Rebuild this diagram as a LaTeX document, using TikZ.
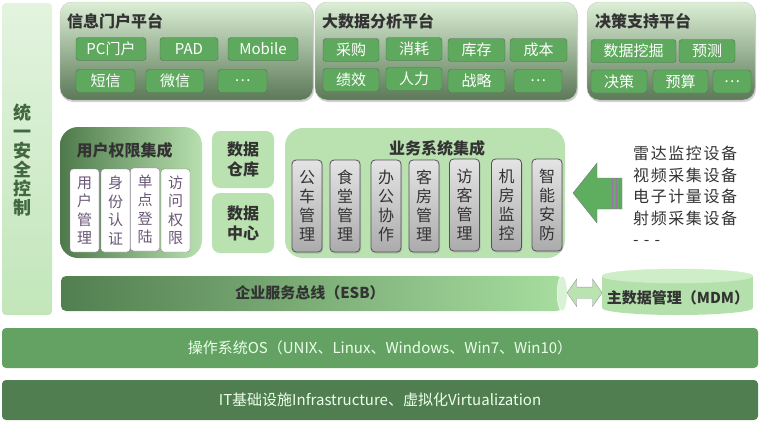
\documentclass[tikz,border=0pt]{standalone}
\usepackage{fontspec}
\setmainfont{Noto Sans CJK SC}
\newfontfamily\devfont{Noto Sans CJK SC}[LetterSpace=10]
\usetikzlibrary{positioning,calc,shapes.geometric,shapes.arrows,shadows}
\definecolor{panelTop}{HTML}{DCEFD6}
\definecolor{panelMid}{HTML}{A6C69F}
\definecolor{panelBot}{HTML}{5B7857}
\definecolor{btnGreen}{HTML}{5FA95F}
\definecolor{btnLine}{HTML}{4F6F4F}
\definecolor{titleGray}{HTML}{333333}
\definecolor{barTop}{HTML}{E3F3DF}
\definecolor{barBot}{HTML}{C2E6BA}
\definecolor{userDark}{HTML}{4E7A4B}
\definecolor{userLight}{HTML}{B8E0AF}
\definecolor{authLine}{HTML}{9C72A8}
\definecolor{authText}{HTML}{6A5876}
\definecolor{dataFill}{HTML}{B9E2B0}
\definecolor{grayTop}{HTML}{E4E4E4}
\definecolor{grayBot}{HTML}{ABABAB}
\definecolor{grayLine}{HTML}{5A4D5C}
\definecolor{arrowFill}{HTML}{5FAE60}
\definecolor{esbDark}{HTML}{527F50}
\definecolor{esbLight}{HTML}{A7DD9F}
\definecolor{capFill}{HTML}{D9F1D4}
\definecolor{mdmBody}{HTML}{B4E1AB}
\definecolor{mdmEnd}{HTML}{CDEEC6}
\definecolor{osFill}{HTML}{63A263}
\definecolor{itFill}{HTML}{517E51}
\tikzset{
  platform/.style={draw=gray!45,rounded corners=12pt,minimum height=98pt,
    top color=panelTop,middle color=panelMid,bottom color=panelBot,
    drop shadow={opacity=0.35,shadow xshift=1pt,shadow yshift=-2pt}},
  ptitle/.style={anchor=west,inner sep=0pt,text=titleGray,
    font=\fontsize{16}{19}\selectfont\bfseries},
  btn/.style={draw=btnLine,fill=btnGreen,rounded corners=3pt,text=white,
    inner sep=0pt,minimum height=23pt,font=\fontsize{15}{18}\selectfont},
  vtext/.style={align=center,inner sep=0pt,font=\fontsize{15}{18.5}\selectfont},
  authbox/.style={draw=authLine,fill=white,rounded corners=3pt,minimum width=29pt,
    minimum height=83pt,text=authText,vtext},
  modbox/.style={draw=grayLine,thick,rounded corners=4pt,top color=grayTop,
    bottom color=grayBot,minimum width=30pt,minimum height=92pt,text=titleGray,
    vtext,font=\fontsize{16}{19}\selectfont,
    drop shadow={opacity=0.3,shadow xshift=1pt,shadow yshift=-1.5pt}},
  databox/.style={fill=dataFill,rounded corners=8pt,minimum width=62pt,
    text=titleGray,align=center,font=\fontsize{16}{20}\selectfont\bfseries},
  layer/.style={rounded corners=4pt,minimum width=756pt,minimum height=40pt,
    text=white!92!green,font=\fontsize{15}{18}\selectfont}
}
\begin{document}
\begin{tikzpicture}[x=1pt,y=-1pt]
  \useasboundingbox (0,0) rectangle (759,421);
  % security bar on the left
  \node[rounded corners=4pt,top color=barTop,bottom color=barBot,
    minimum width=50pt,minimum height=312pt] (sec) at (27,159) {};
  \node[vtext,text=userDark!85!black,font=\fontsize{18}{19}\selectfont\bfseries]
    (sect) at (22,160) {统\\一\\安\\全\\控\\制};
  % platforms
  \node[platform,minimum width=253pt] (portal) at (186.5,51) {};
  \node[platform,minimum width=262pt] (bigdata) at (446,51) {};
  \node[platform,minimum width=168pt] (decision) at (671,51) {};
  \node[ptitle] (portalt) at (67,21) {信息门户平台};
  \node[ptitle] (bigdatat) at (322,21) {大数据分析平台};
  \node[ptitle] (decisiont) at (595,21) {决策支持平台};
  \node[btn,minimum width=70pt] (pc) at (111,49) {PC门户};
  \node[btn,minimum width=58pt] (pad) at (189,49) {PAD};
  \node[btn,minimum width=70pt] (mob) at (263,49) {Mobile};
  \node[btn,minimum width=59pt] (sms) at (105.5,81) {短信};
  \node[btn,minimum width=58pt] (wx) at (175,81) {微信};
  \node[btn,minimum width=49pt] (more1) at (242.5,81) {…};
  \node[btn,minimum width=56pt] (buy) at (351,50) {采购};
  \node[btn,minimum width=56pt] (use) at (414,49) {消耗};
  \node[btn,minimum width=57pt] (stock) at (476.5,50) {库存};
  \node[btn,minimum width=57pt] (cost) at (538.5,50) {成本};
  \node[btn,minimum width=56pt] (perf) at (351,80) {绩效};
  \node[btn,minimum width=56pt] (hr) at (414,79) {人力};
  \node[btn,minimum width=57pt] (strat) at (476.5,81) {战略};
  \node[btn,minimum width=48pt] (more2) at (538,81) {…};
  \node[btn,minimum width=85pt] (mine) at (633.5,51) {数据挖掘};
  \node[btn,minimum width=56pt] (fcst) at (707,51) {预测};
  \node[btn,minimum width=56pt] (dec) at (619,81.5) {决策};
  \node[btn,minimum width=55pt] (bud) at (680.5,81.5) {预算};
  \node[btn,minimum width=38pt] (more3) at (732,81.5) {…};
  % user rights
  \node[rounded corners=18pt,left color=userDark,right color=userLight,
    minimum width=142pt,minimum height=131pt] (user) at (131,192.5) {};
  \node[ptitle,anchor=center] (usert) at (124.5,150) {用户权限集成};
  \node[authbox] (um) at (84.5,210.5) {用\\户\\管\\理};
  \node[authbox] (auth) at (115.5,210.5) {身\\份\\认\\证};
  \node[authbox] (sso) at (145,209.5) {单\\点\\登\\陆};
  \node[authbox] (acc) at (175.5,210.5) {访\\问\\权\\限};
  % data
  \node[databox,minimum height=57pt] (dw) at (243,159.5) {数据\\仓库};
  \node[databox,minimum height=60pt] (dc) at (243,223) {数据\\中心};
  % business systems
  \node[fill=dataFill,rounded corners=18pt,minimum width=280pt,
    minimum height=130pt] (biz) at (425,193) {};
  \node[ptitle,anchor=center] (bizt) at (437,148) {业务系统集成};
  \node[modbox] (car) at (307,206) {公\\车\\管\\理};
  \node[modbox] (canteen) at (345,206) {食\\堂\\管\\理};
  \node[modbox] (office) at (386,206) {办\\公\\协\\作};
  \node[modbox] (room) at (424,206) {客\\房\\管\\理};
  \node[modbox] (visit) at (464.5,205) {访\\客\\管\\理};
  \node[modbox] (idc) at (506.5,205) {机\\房\\监\\控};
  \node[modbox] (secu) at (547,205) {智\\能\\安\\防};
  % devices and input arrow
  \draw[draw=grayLine!80,fill=arrowFill] (573,193) -- (597,163) -- (597,178)
    -- (622,178) -- (622,209) -- (597,209) -- (597,223) -- cycle;
  \draw[authLine,line width=0.8pt] (612,178) -- (612,209) (616,178) -- (616,209)
    (619.5,178) -- (619.5,209);
  \node[anchor=north west,align=left,inner sep=0pt,text=titleGray,
    font=\devfont\fontsize{16}{21.5}\selectfont] (dev) at (633,146)
    {雷达监控设备\\视频采集设备\\电子计量设备\\射频采集设备\\- - -};
  % MDM
  \fill[mdmBody] (602,276) rectangle (753,308);
  \fill[mdmBody] (677.5,308) ellipse (75.5 and 7);
  \filldraw[fill=mdmEnd,draw=white!40!mdmBody] (677.5,276) ellipse (75.5 and 7);
  \node[minimum width=151pt,minimum height=46pt,inner sep=0pt] (mdm)
    at (677.5,292) {};
  \node[ptitle,anchor=center,font=\fontsize{15}{18}\selectfont\bfseries]
    (mdmt) at (678,298) {主数据管理（MDM）};
  % ESB
  \node[rounded corners=5pt,left color=esbDark,right color=esbLight,
    minimum width=501pt,minimum height=35pt] (esb) at (311.5,293.5) {};
  \node[ellipse,fill=capFill,draw=white,minimum width=10pt,minimum height=35pt,
    inner sep=0pt] (esbcap) at (esb.east) {};
  \node[ptitle,anchor=center,font=\fontsize{15}{18}\selectfont\bfseries]
    (esbt) at (310,293) {企业服务总线（ESB）};
  \node[double arrow,draw=gray!80,fill=esbLight!80!white,minimum height=35pt,
    double arrow head extend=8pt,double arrow tip angle=110,inner xsep=0pt,
    inner ysep=5.5pt] (link) at ($(esbcap.east)!0.5!(mdm.west)$) {};
  % base layers
  \node[layer,fill=osFill] (os) at (380,348)
    {操作系统OS（UNIX、Linux、Windows、Win7、Win10）};
  \node[layer,fill=itFill] (it) at (380,400)
    {IT基础设施Infrastructure、虚拟化Virtualization};
\end{tikzpicture}
\end{document}
